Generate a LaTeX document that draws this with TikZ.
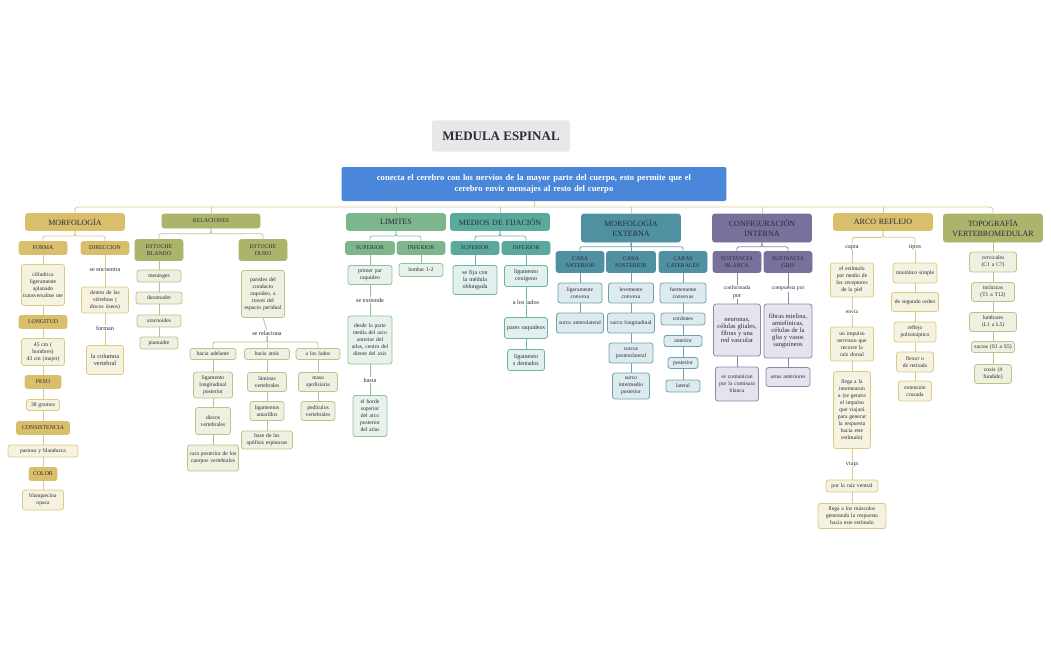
\documentclass[tikz,border=0pt]{standalone}
\usepackage{fontspec}
\setmainfont{Liberation Serif}
\usetikzlibrary{calc}
\definecolor{moH}{HTML}{D9BE6C}\definecolor{moL}{HTML}{F6F2E0}\definecolor{moB}{HTML}{DCC982}
\definecolor{reH}{HTML}{ACB46C}\definecolor{reL}{HTML}{EFF0DF}\definecolor{reB}{HTML}{BCC28C}
\definecolor{liH}{HTML}{7DB58C}\definecolor{liL}{HTML}{E8F2EA}\definecolor{liB}{HTML}{8DC29C}
\definecolor{meH}{HTML}{5AA99D}\definecolor{meL}{HTML}{E2F0EE}\definecolor{meB}{HTML}{6CB3A8}
\definecolor{exH}{HTML}{4F90A1}\definecolor{exL}{HTML}{DDEAEE}\definecolor{exB}{HTML}{6EA1B0}
\definecolor{ciH}{HTML}{77719B}\definecolor{ciL}{HTML}{E5E3EE}\definecolor{ciB}{HTML}{8C87AB}
\definecolor{txt}{HTML}{2A2A3A}\definecolor{trunk}{HTML}{D9CC8F}\definecolor{mainblue}{HTML}{4A86D9}
\newcommand\nohy{\hyphenpenalty=10000\relax\exhyphenpenalty=10000\relax}
\tikzset{
 base/.style={rounded corners=2.5pt, align=center, inner sep=0.5pt, text=txt, line width=0.8pt},
 hd/.style={base, fill=#1H, draw=#1H, font=\fontsize{8}{9.5}\selectfont},
 sh/.style={base, fill=#1H, draw=#1H, font=\fontsize{5.8}{6.8}\selectfont},
 lf/.style={base, fill=#1L, draw=#1B, font=\fontsize{5.6}{7}\selectfont\nohy},
 lb/.style={align=center, text=txt, inner sep=0.5pt, fill=white, font=\fontsize{6.2}{7.4}\selectfont},
 ln/.style={draw=#1B, line width=0.8pt, rounded corners=2pt},
}
\newcommand\B[7]{\pgfmathsetmacro\tw{#4-3}\node[#6, minimum width=#4pt, minimum height=#5pt, text width=\tw pt] (#1) at (#2,#3) {#7};}
\newcommand\T[4]{\node[lb] (#1) at (#2,#3) {#4};}
\newcommand\C[3]{\coordinate (m) at ($(#2.south)!.5!(#3.north)$);\draw[ln=#1] (#2.south) -- (#2.south |- m) -| (#3.north);}
\newcommand\V[3]{\draw[ln=#1] (#2.south) -- (#3.north);}
\begin{document}
\begin{tikzpicture}[x=1pt,y=-1pt]
\useasboundingbox (0,0) rectangle (1051,650);
\node[rounded corners=2pt, fill=gray!18, minimum width=138pt, minimum height=31pt, font=\fontsize{13}{15}\selectfont\bfseries, text=txt] (title) at (501,136) {MEDULA ESPINAL};
\node[rounded corners=2pt, fill=mainblue, minimum width=384pt, minimum height=34pt, text width=378pt, align=center, text=white, font=\fontsize{8.6}{11.5}\selectfont\bfseries] (main) at (534,184) {conecta el cerebro con los nervios de la mayor parte del cuerpo, esto permite que el\\cerebro envíe mensajes al resto del cuerpo};
% top level
\B{mo}{75}{222}{99}{17}{hd=mo}{MORFOLOGÍA}
\B{re}{211}{221}{98}{14}{sh=re}{RELACIONES}
\B{li}{396}{222}{99}{17}{hd=li}{LIMITES}
\B{me}{500}{222}{99}{17}{hd=me}{MEDIOS DE FIJACIÓN}
\B{ex}{631}{228}{99}{28}{hd=ex}{MORFOLOGÍA\\EXTERNA}
\B{ci}{762}{228}{99}{28}{hd=ci}{CONFIGURACIÓN\\INTERNA}
\B{ar}{883}{222}{99}{17}{hd=mo}{ARCO REFLEJO}
\B{to}{993}{228}{99}{28}{hd=re}{TOPOGRAFÍA\\VERTEBROMEDULAR}
\draw[draw=trunk, line width=0.8pt] (main.south) -- (534,207);
\draw[draw=trunk, line width=0.8pt, rounded corners=3pt] (mo.north) |- (534,207) -| (to.north);
\foreach \n in {re,li,me,ex,ci,ar}{\draw[draw=trunk, line width=0.8pt] (\n.north) -- (\n.north |- 0,207);}
% MORFOLOGIA
\B{fo}{43}{248}{48}{13}{sh=mo}{FORMA}
\B{di}{105}{248}{48}{13}{sh=mo}{DIRECCION}
\C{mo}{mo}{fo}\C{mo}{mo}{di}
\B{f1}{43}{285}{43}{41}{lf=mo}{cilíndrica ligeramente aplanado transversalme nte}
\B{lo}{43}{322}{48}{13}{sh=mo}{LONGITUD}
\B{f2}{43}{352}{43}{27}{lf=mo}{45 cm ( hombres)\\43 cm (mujer)}
\B{pe}{43}{382}{36}{13}{sh=mo}{PESO}
\B{f3}{43}{405}{33}{11}{lf=mo}{38 gramos}
\B{co}{43}{428}{53}{13}{sh=mo}{CONSISTENCIA}
\B{f4}{43}{451}{70}{12}{lf=mo}{pastosa y blanduzca}
\B{cl}{43}{474}{28}{13}{sh=mo}{COLOR}
\B{f5}{43}{500}{41}{20}{lf=mo}{blanquecina opaca}
\V{mo}{fo}{f1}\V{mo}{f1}{lo}\V{mo}{lo}{f2}\V{mo}{f2}{pe}\V{mo}{pe}{f3}\V{mo}{f3}{co}\V{mo}{co}{f4}\V{mo}{f4}{cl}\V{mo}{cl}{f5}
\T{d0}{105}{270}{se encuentra}
\B{d1}{105}{300}{47}{26}{lf=mo}{dentro de las vértebras ( discos óseos)}
\T{d2}{105}{328}{forman}
\B{d3}{105}{360}{37}{29}{lf=mo}{\fontsize{6.3}{7.8}\selectfont la columna vertebral}
\V{mo}{di}{d0}\V{mo}{d0}{d1}\V{mo}{d1}{d2}\V{mo}{d2}{d3}
% RELACIONES
\B{eb}{159}{250}{48}{21}{sh=re}{ESTUCHE\\BLANDO}
\B{ed}{263}{250}{48}{21}{sh=re}{ESTUCHE\\DURO}
\C{re}{re}{eb}\C{re}{re}{ed}
\B{b1}{159}{276}{44}{12}{lf=re}{meninges}
\B{b2}{159}{298}{46}{12}{lf=re}{duramadre}
\B{b3}{159}{321}{44}{12}{lf=re}{aracnoides}
\B{b4}{159}{343}{38}{12}{lf=re}{piamadre}
\V{re}{eb}{b1}\V{re}{b1}{b2}\V{re}{b2}{b3}\V{re}{b3}{b4}
\B{u1}{263}{294}{43}{47}{lf=re}{paredes del conducto raquideo, a traves del espacio peridual}
\T{u2}{267}{333}{se relaciona}
\draw[ln=re] (u1.south) -- (u2.north);
\B{h1}{213}{354}{46}{11}{lf=re}{hacia adelante}
\B{h2}{267}{354}{45}{11}{lf=re}{hacia atrás}
\B{h3}{318}{354}{44}{11}{lf=re}{a los lados}
\C{re}{u2}{h1}\C{re}{u2}{h2}\C{re}{u2}{h3}
\B{a1}{213}{385}{39}{26}{lf=re}{ligamento longitudinal posterior}
\B{a2}{213}{421}{35}{27}{lf=re}{discos vertebrales}
\B{a3}{213}{458}{51}{26}{lf=re}{cara posterior de los cuerpos vertebrales}
\V{re}{h1}{a1}\V{re}{a1}{a2}\V{re}{a2}{a3}
\B{t1}{267}{382}{39}{19}{lf=re}{láminas vertebrales}
\B{t2}{267}{411}{34}{19}{lf=re}{ligamentos amarillos}
\B{t3}{267}{440}{51}{18}{lf=re}{base de las apófisis espinosas}
\V{re}{h2}{t1}\V{re}{t1}{t2}\V{re}{t2}{t3}
\B{s1}{318}{382}{39}{19}{lf=re}{masa apofisiaria}
\B{s2}{318}{411}{34}{19}{lf=re}{pedículos vertebrales}
\V{re}{h3}{s1}\V{re}{s1}{s2}
% LIMITES
\B{ls}{370}{248}{49}{13}{sh=li}{SUPERIOR}
\B{lI}{421}{248}{48}{13}{sh=li}{INFERIOR}
\C{li}{li}{ls}\C{li}{li}{lI}
\B{l1}{370}{275}{44}{19}{lf=li}{primer par raquideo}
\T{l2}{370}{300}{se extiende}
\B{l3}{370}{340}{44}{48}{lf=li}{desde la parte media del arco anterior del atlas, centro del diente del axis}
\T{l4}{370}{380}{hasta}
\B{l5}{370}{416}{34}{41}{lf=li}{el borde superior del arco posterior del atlas}
\V{li}{ls}{l1}\V{li}{l1}{l2}\V{li}{l2}{l3}\V{li}{l3}{l4}\V{li}{l4}{l5}
\B{l6}{421}{270}{44}{13}{lf=li}{lumbar 1-2}
\V{li}{lI}{l6}
% MEDIOS
\B{ms}{475}{248}{48}{13}{sh=me}{SUPERIOR}
\B{mI}{526}{248}{48}{13}{sh=me}{INFERIOR}
\C{me}{me}{ms}\C{me}{me}{mI}
\B{m1}{475}{280}{44}{29}{lf=me}{\fontsize{6}{7.5}\selectfont se fija con la médula oblongada}
\V{me}{ms}{m1}
\B{m2}{526}{276}{43}{21}{lf=me}{\fontsize{6}{7.5}\selectfont ligamento coxígeno}
\T{m3}{526}{302}{a los lados}
\B{m4}{526}{328}{43}{21}{lf=me}{\fontsize{6}{7.5}\selectfont pares raquideos}
\B{m5}{526}{360}{37}{21}{lf=me}{\fontsize{6}{7.5}\selectfont ligamento s dentados}
\V{me}{mI}{m2}\V{me}{m2}{m3}\V{me}{m3}{m4}\V{me}{m4}{m5}
% MORF EXTERNA
\B{ea}{580}{262}{48}{21}{sh=ex}{CARA\\ANTERIOR}
\B{ep}{631}{262}{49}{21}{sh=ex}{CARA\\POSTERIOR}
\B{el}{683}{262}{48}{21}{sh=ex}{CARAS\\LATERALES}
\C{ex}{ex}{ea}\V{ex}{ex}{ep}\C{ex}{ex}{el}
\B{e1}{580}{293}{44}{20}{lf=ex}{ligeramente convexa}
\B{e2}{580}{323}{47}{20}{lf=ex}{surco anterolateral}
\V{ex}{ea}{e1}\V{ex}{e1}{e2}
\B{p1}{631}{293}{45}{20}{lf=ex}{levemente convexa}
\B{p2}{631}{323}{47}{20}{lf=ex}{surco longitudinal}
\B{p3}{631}{353}{44}{20}{lf=ex}{surcos posterolateral}
\B{p4}{631}{386}{37}{26}{lf=ex}{surco intermedio posterior}
\V{ex}{ep}{p1}\V{ex}{p1}{p2}\V{ex}{p2}{p3}\V{ex}{p3}{p4}
\B{q1}{683}{293}{46}{20}{lf=ex}{fuertemente convexas}
\B{q2}{683}{319}{44}{12}{lf=ex}{cordones}
\B{q3}{683}{341}{38}{11}{lf=ex}{anterior}
\B{q4}{683}{363}{30}{11}{lf=ex}{posterior}
\B{q5}{683}{386}{34}{12}{lf=ex}{lateral}
\V{ex}{el}{q1}\V{ex}{q1}{q2}\V{ex}{q2}{q3}\V{ex}{q3}{q4}\V{ex}{q4}{q5}
% CONFIG INTERNA
\B{cb}{737}{262}{48}{21}{sh=ci}{SUSTANCIA\\BLANCA}
\B{cg}{788}{262}{48}{21}{sh=ci}{SUSTANCIA\\GRIS}
\C{ci}{ci}{cb}\C{ci}{ci}{cg}
\T{c1}{737}{292}{\fontsize{5.6}{6.8}\selectfont conformada\\por}
\B{c2}{737}{330}{47}{52}{lf=ci}{\fontsize{6.6}{8}\selectfont neuronas, células gliales, fibras y una red vascular}
\B{c3}{737}{384}{43}{34}{lf=ci}{se comunican por la comisura blanca}
\V{ci}{cb}{c1}\V{ci}{c1}{c2}\V{ci}{c2}{c3}
\T{g1}{788}{289}{\fontsize{5.6}{6.8}\selectfont compuesta por}
\B{g2}{788}{331}{48}{54}{lf=ci}{\fontsize{6.6}{8}\selectfont fibras mielina, amielínicas, células de la glia y vasos sanguíneos}
\B{g3}{788}{377}{44}{19}{lf=ci}{astas anteriores}
\V{ci}{cg}{g1}\V{ci}{g1}{g2}\V{ci}{g2}{g3}
% ARCO REFLEJO
\T{r0}{852}{247}{capta}
\T{k0}{915}{247}{tipos}
\C{mo}{ar}{r0}\C{mo}{ar}{k0}
\B{r1}{852}{280}{43}{34}{lf=mo}{el estímulo por medio de los receptores de la piel}
\T{r2}{852}{312}{\fontsize{5.6}{6.8}\selectfont envía}
\B{r3}{852}{344}{43}{34}{lf=mo}{un impulso nervioso que recorre la raíz dorsal}
\B{r4}{852}{410}{37}{77}{lf=mo}{llega a la interneuron a (se genera el impulso que viajará para generar la respuesta hacia este estímulo)}
\T{r5}{852}{464}{viaja}
\B{r6}{852}{486}{52}{12}{lf=mo}{por la raíz ventral}
\B{r7}{852}{516}{68}{25}{lf=mo}{llega a los músculos generando la respuesta hacia este estímulo}
\V{mo}{r0}{r1}\V{mo}{r1}{r2}\V{mo}{r2}{r3}\V{mo}{r3}{r4}\V{mo}{r4}{r5}\V{mo}{r5}{r6}\V{mo}{r6}{r7}
\B{k1}{915}{273}{44}{20}{lf=mo}{miotático simple}
\B{k2}{915}{302}{47}{19}{lf=mo}{de segundo orden}
\B{k3}{915}{332}{42}{20}{lf=mo}{reflejo polisináptico}
\B{k4}{915}{362}{37}{20}{lf=mo}{flexor o de retirada}
\B{k5}{915}{391}{33}{20}{lf=mo}{extensión cruzada}
\V{mo}{k0}{k1}\V{mo}{k1}{k2}\V{mo}{k2}{k3}\V{mo}{k3}{k4}\V{mo}{k4}{k5}
% TOPOGRAFIA
\B{o1}{993}{262}{47}{20}{lf=re}{cervicales (C1 a C7)}
\B{o2}{993}{292}{43}{19}{lf=re}{torácicas (T1 a T12)}
\B{o3}{993}{322}{47}{19}{lf=re}{lumbares (L1 a L5)}
\B{o4}{993}{347}{43}{11}{lf=re}{sacras (S1 a S5)}
\B{o5}{993}{374}{37}{19}{lf=re}{coxis (4 fundido)}
\V{re}{to}{o1}\V{re}{o1}{o2}\V{re}{o2}{o3}\V{re}{o3}{o4}\V{re}{o4}{o5}
\end{tikzpicture}
\end{document}
